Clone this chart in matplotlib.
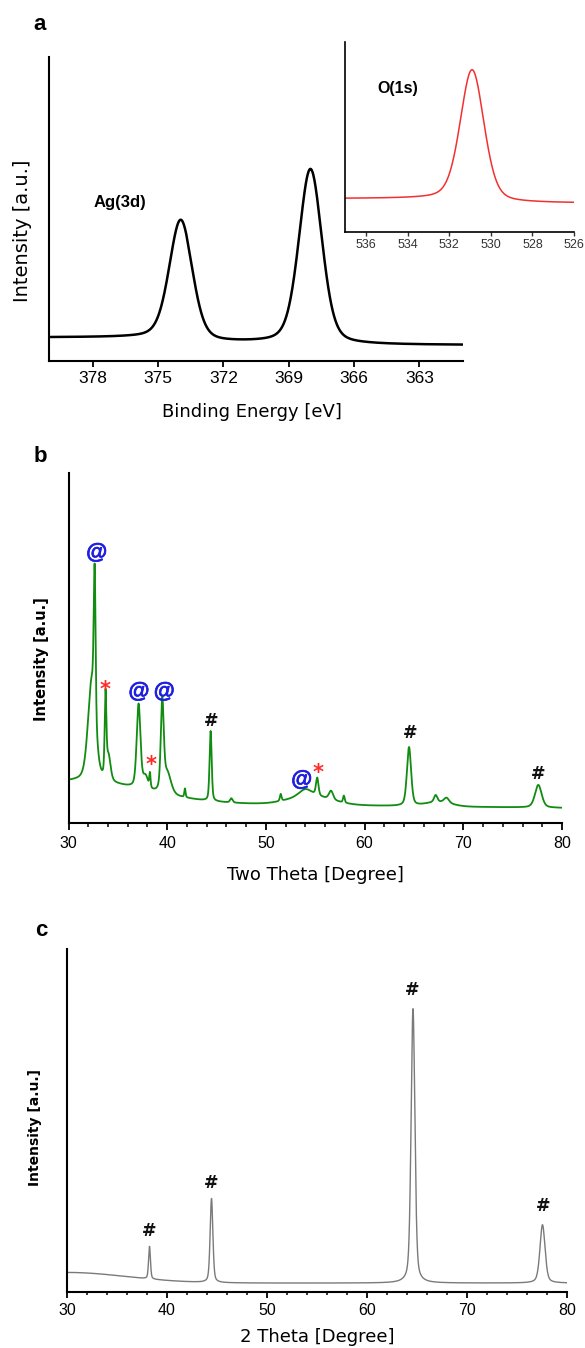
import numpy as np
import matplotlib
matplotlib.use("Agg")
import matplotlib.pyplot as plt
import matplotlib.patheffects as pe
from matplotlib.ticker import MultipleLocator

plt.rcParams["font.family"] = ["Liberation Sans", "DejaVu Sans"]

# ---------------- data ----------------
# (a) Ag(3d) XPS: peak centres [eV], heights above background, FWHM
ag_centers = [373.95, 368.0]
ag_heights = [0.395, 0.575]
ag_fwhm = [1.25, 1.25]
ag_steps = [0.020, 0.006]      # background step under each peak
ag_base = 0.052

# inset O(1s)
o_centers = [530.9]
o_heights = [0.69]
o_fwhm = [1.35]
o_steps = [0.025]
o_base = 0.150

# (b) XRD of the composite (green)
b_centers = [32.35, 32.65, 33.75, 34.05, 37.1, 37.8, 38.25, 39.5, 40.0, 41.8,
             44.4, 46.5, 51.5, 54.0, 55.2, 56.6, 57.9, 64.5, 67.2, 68.3, 77.6]
b_heights = [0.28, 0.42, 0.23, 0.07, 0.24, 0.035, 0.04, 0.25, 0.06, 0.025,
             0.20, 0.012, 0.02, 0.02, 0.05, 0.025, 0.02, 0.168, 0.02, 0.015, 0.065]
b_fwhm = [0.9, 0.22, 0.2, 0.5, 0.45, 0.6, 0.15, 0.35, 0.9, 0.15,
          0.25, 0.3, 0.2, 1.5, 0.3, 0.5, 0.2, 0.5, 0.4, 0.6, 0.8]
b_base_ends = [0.060, 0.043]          # background at 30 and 80 degree
b_hump_centers = [31.0, 54.5, 67.5]   # broad background humps
b_hump_heights = [0.06, 0.025, 0.012]
b_hump_fwhm = [15.3, 5.0, 3.0]

# (c) XRD of Ag (grey)
c_centers = [38.25, 44.45, 64.6, 77.55]
c_heights = [0.095, 0.245, 0.80, 0.17]
c_fwhm = [0.22, 0.32, 0.45, 0.6]
c_base = 0.026
c_hump = [30.0, 0.031, 14.1]          # centre, height, fwhm

# peak labels
b_at_x = [32.86, 37.14, 39.7, 53.63]
b_at_y = [0.772, 0.375, 0.375, 0.123]
b_star_x = [33.7, 38.33, 55.25]
b_star_y = [0.391, 0.175, 0.153]
b_hash_x = [44.4, 64.6, 77.6]
b_hash_y = [0.29, 0.256, 0.14]
c_hash_x = [38.2, 44.4, 64.5, 77.6]
c_hash_y = [0.178, 0.318, 0.881, 0.25]


def pvoigt(x, c, h, w, eta=0.4):
    g = np.exp(-4 * np.log(2) * ((x - c) / w) ** 2)
    l = 1.0 / (1 + (2 * (x - c) / w) ** 2)
    return h * (eta * l + (1 - eta) * g)


def gauss(x, c, h, w):
    return h * np.exp(-4 * np.log(2) * ((x - c) / w) ** 2)


def xps(x, centers, heights, fwhm, steps, base):
    y = np.full_like(x, base)
    for c, h, w, s in zip(centers, heights, fwhm, steps):
        y += s * (0.5 + np.arctan((x - c) / 0.6) / np.pi)
        y += pvoigt(x, c, h, w, eta=0.3)
    return y


W, H = 585, 1348
fig = plt.figure(figsize=(W / 100, H / 100), dpi=100)


def box(l, t, r, b):
    return [l / W, 1 - b / H, (r - l) / W, (b - t) / H]


def style(ax, lw=1.5):
    for s in ["top", "right"]:
        ax.spines[s].set_visible(False)
    for s in ["left", "bottom"]:
        ax.spines[s].set_linewidth(lw)
    ax.set_yticks([])
    ax.set_ylim(0, 1)


label_font = dict(family="DejaVu Sans")
mark_font = dict(family="DejaVu Sans", fontweight="bold", ha="center", va="center")
at_font = dict(family="Liberation Sans", fontweight="bold", ha="center", va="center")
blue = "#1f1fe0"

# ---------------- panel a ----------------
ax_a = fig.add_axes(box(49, 57, 463, 361))
xa = np.linspace(361, 380, 1500)
ax_a.plot(xa, xps(xa, ag_centers, ag_heights, ag_fwhm, ag_steps, ag_base),
          color="black", lw=1.8)
ax_a.set_xlim(380, 361)
ax_a.set_xticks([378, 375, 372, 369, 366, 363])
style(ax_a)
ax_a.tick_params(axis="x", direction="out", length=4, width=1.3, pad=3, labelsize=12.5)
ax_a.set_xlabel("Binding Energy [eV]", fontsize=13, va="center", **label_font)
ax_a.xaxis.set_label_coords(0.49, -0.168)
ax_a.set_ylabel("Intensity [a.u.]", fontsize=14, va="center", **label_font)
ax_a.yaxis.set_label_coords(-0.065, 0.428)
ax_a.text(376.73, 0.523, "Ag(3d)", fontsize=12, fontweight="bold",
          ha="center", va="center")
fig.text(40 / W, 1 - 24 / H, "a", fontsize=16, fontweight="bold",
         ha="center", va="center")

# inset O(1s)
ax_i = fig.add_axes(box(345.4, 41.7, 574, 231.7))
xi = np.linspace(526, 537, 1000)
ax_i.plot(xi, xps(xi, o_centers, o_heights, o_fwhm, o_steps, o_base),
          color="#f23030", lw=1.1)
ax_i.set_xlim(537, 526)
ax_i.set_xticks([536, 534, 532, 530, 528, 526])
style(ax_i, lw=1.2)
ax_i.set_facecolor("none")
ax_i.tick_params(axis="x", direction="out", length=3, width=1.0, pad=2,
                 labelsize=9, colors="#333333")
ax_i.text(534.5, 0.756, "O(1s)", fontsize=11.5, fontweight="bold",
          ha="center", va="center")

# ---------------- panel b ----------------
ax_b = fig.add_axes(box(68.5, 473, 562, 823))
xb = np.linspace(30, 80, 5000)
yb = b_base_ends[0] + (b_base_ends[1] - b_base_ends[0]) * (xb - 30) / 50
for c, h, w in zip(b_hump_centers, b_hump_heights, b_hump_fwhm):
    yb = yb + gauss(xb, c, h, w)
for c, h, w in zip(b_centers, b_heights, b_fwhm):
    yb = yb + pvoigt(xb, c, h, w)
ax_b.plot(xb, yb, color="#118c11", lw=1.3)
ax_b.set_xlim(30, 80)
ax_b.xaxis.set_major_locator(MultipleLocator(10))
ax_b.xaxis.set_minor_locator(MultipleLocator(2))
style(ax_b)
ax_b.tick_params(axis="x", which="major", direction="out", length=5, width=1.3,
                 pad=4, labelsize=11.5)
ax_b.tick_params(axis="x", which="minor", direction="out", length=3, width=1.1)
ax_b.set_xlabel("Two Theta [Degree]", fontsize=13, va="center", **label_font)
ax_b.xaxis.set_label_coords(0.5, -0.149)
ax_b.set_ylabel("Intensity [a.u.]", fontsize=10.5, fontweight="bold",
                va="center", **label_font)
ax_b.yaxis.set_label_coords(-0.054, 0.469)
for x, y in zip(b_at_x, b_at_y):
    ax_b.text(x, y, "@", color=blue, fontsize=15.5, **at_font,
              path_effects=[pe.withStroke(linewidth=0.5, foreground=blue)])
for x, y in zip(b_star_x, b_star_y):
    ax_b.text(x, y - 0.01, "*", color="#ff2a2a", fontsize=15, **mark_font)
for x, y in zip(b_hash_x, b_hash_y):
    ax_b.text(x, y, "#", color="#111111", fontsize=12.5, **mark_font)
fig.text(40 / W, 1 - 457 / H, "b", fontsize=16, fontweight="bold",
         ha="center", va="center")

# ---------------- panel c ----------------
ax_c = fig.add_axes(box(67, 949, 567, 1292))
xc = np.linspace(30, 80, 5000)
yc = c_base + gauss(xc, c_hump[0], c_hump[1], c_hump[2])
for c, h, w in zip(c_centers, c_heights, c_fwhm):
    yc = yc + pvoigt(xc, c, h, w)
ax_c.plot(xc, yc, color="#7a7a7a", lw=1.0)
ax_c.set_xlim(30, 80)
ax_c.xaxis.set_major_locator(MultipleLocator(10))
ax_c.xaxis.set_minor_locator(MultipleLocator(2))
style(ax_c)
ax_c.tick_params(axis="x", which="major", direction="out", length=4, width=1.3,
                 pad=4, labelsize=11.5)
ax_c.tick_params(axis="x", which="minor", direction="out", length=2.5, width=1.1)
ax_c.set_xlabel("2 Theta [Degree]", fontsize=13, va="center", **label_font)
ax_c.xaxis.set_label_coords(0.5, -0.131)
ax_c.set_ylabel("Intensity [a.u.]", fontsize=10, fontweight="bold",
                va="center", **label_font)
ax_c.yaxis.set_label_coords(-0.064, 0.481)
for x, y in zip(c_hash_x, c_hash_y):
    ax_c.text(x, y, "#", color="#111111", fontsize=12.5, **mark_font)
fig.text(41 / W, 1 - 931 / H, "c", fontsize=16, fontweight="bold",
         ha="center", va="center")

fig.savefig("out.png", dpi=100)
